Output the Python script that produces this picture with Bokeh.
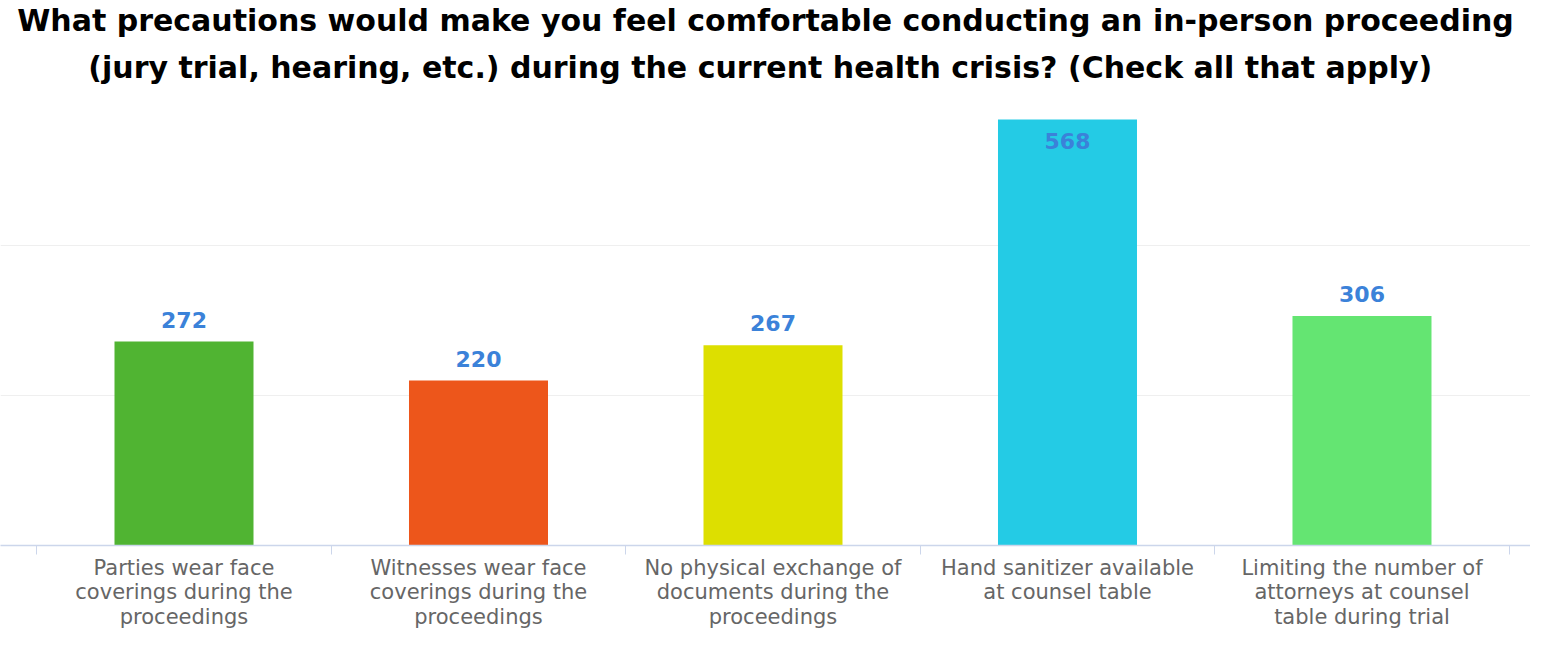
from bokeh.plotting import figure
from bokeh.models import ColumnDataSource, LabelSet, FixedTicker, Range1d, Title
from bokeh.core.properties import value
from bokeh.embed import file_html
from bokeh.resources import INLINE

# ---- data ----
title_lines = [
    "What precautions would make you feel comfortable conducting an in-person proceeding",
    "(jury trial, hearing, etc.) during the current health crisis?  (Check all that apply)",
]
categories = [
    "Parties wear face\ncoverings during the\nproceedings",
    "Witnesses wear face\ncoverings during the\nproceedings",
    "No physical exchange of\ndocuments during the\nproceedings",
    "Hand sanitizer available\nat counsel table",
    "Limiting the number of\nattorneys at counsel\ntable during trial",
]
values = [272, 220, 267, 568, 306]
bar_colors = ["#50B432", "#ED561B", "#DDDF00", "#24CBE5", "#64E572"]
y_ticks = [0, 200, 400, 600]

# ---- derived ----
y_max = y_ticks[-1]
xs = list(range(len(categories)))
inside = [v > y_max * 0.9 for v in values]
src = ColumnDataSource(dict(
    x=xs,
    top=values,
    color=bar_colors,
    label=[str(v) for v in values],
    yoff=[-29 if ins else 14 for ins in inside],
))

p = figure(
    width=1530, height=631,
    x_range=Range1d(-0.6231, 4.5722), y_range=Range1d(0, y_max),
    output_backend="svg", toolbar_location=None, title=None,
    min_border_left=0, min_border_right=0, min_border_top=0, min_border_bottom=0,
)
p.outline_line_color = None
p.background_fill_color = "white"
p.border_fill_color = "white"

# title: lines added bottom-most first
for i, line in enumerate(reversed(title_lines)):
    t = Title(text=line, align="center", text_font="DejaVu Sans",
              text_font_style="bold", text_font_size="30px", text_color="#000000",
              standoff=(21 if i == 0 else 0))
    p.add_layout(t, "above")

p.vbar(x="x", top="top", width=0.472, color="color", source=src, line_color=None)

labels = LabelSet(x="x", y="top", text="label", y_offset="yoff", source=src,
                  text_align="center", text_baseline="alphabetic",
                  text_font=value("DejaVu Sans"), text_font_style="bold",
                  text_font_size="22px", text_color="#3B82D9")
p.add_layout(labels)

# axes
p.yaxis.visible = False
p.xgrid.visible = False
p.ygrid.ticker = FixedTicker(ticks=y_ticks)
p.ygrid.grid_line_color = "#EFEFEF"
p.ygrid.grid_line_width = 1

xa = p.xaxis[0]
xa.ticker = FixedTicker(ticks=xs, minor_ticks=[x - 0.5 for x in xs] + [xs[-1] + 0.5])
xa.major_label_overrides = {x: c for x, c in zip(xs, categories)}
xa.major_tick_out = 0
xa.major_tick_in = 0
xa.minor_tick_out = 9
xa.minor_tick_in = 0
xa.minor_tick_line_color = "#CCD6EB"
xa.axis_line_color = "#CCD6EB"
xa.axis_line_width = 1.5
xa.major_label_standoff = 1
xa.major_label_text_font = "DejaVu Sans"
xa.major_label_text_font_size = "21px"
xa.major_label_text_color = "#666666"
xa.major_label_text_line_height = 1.03

open("out.html", "w").write(file_html(p, INLINE))
